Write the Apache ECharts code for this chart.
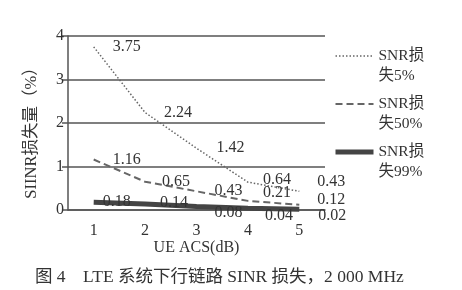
<!DOCTYPE html>
<html>
<head>
<meta charset="utf-8">
<script src="https://cdn.jsdelivr.net/npm/echarts@6/dist/echarts.min.js"></script>
<style>html,body{margin:0;padding:0;background:#fff}#c{width:462px;height:290px}</style>
</head>
<body>
<div id="c"></div>
<script>
const categories = ['1', '2', '3', '4', '5'];
const seriesNames = ['SNR损失5%', 'SNR损失50%', 'SNR损失99%'];
const loss5 = [3.75, 2.24, 1.42, 0.64, 0.43];
const loss50 = [1.16, 0.65, 0.43, 0.21, 0.12];
const loss99 = [0.18, 0.14, 0.08, 0.04, 0.02];
const yTicks = [0, 1, 2, 3, 4];

// label shifts (styling only)
const shift5 = [[19,0],[19,0],[20,0],[15,-2],[18,-9]];
const shift50 = [[19,0],[17,0],[18,0],[15,-8],[18,-5]];
const shift99 = [[9,0],[15,-1],[18,6],[17,8],[19,7]];

const FONT = "'Liberation Serif', 'Noto Sans CJK SC', serif";
const TXT = '#333';
const lineStyles = [
  { color: '#666', width: 1.5, type: [1.5, 2] },
  { color: '#666', width: 2, type: [7, 4] },
  { color: '#444', width: 5, type: 'solid' }
];

function mk(name, vals, shifts, line) {
  return {
    name: name,
    type: 'line',
    symbol: 'circle',
    symbolSize: 0,
    itemStyle: { color: line.color },
    lineStyle: line,
    data: vals.map((v, i) => ({ value: v, label: { offset: shifts[i] } })),
    label: {
      show: true, position: 'right', distance: 0,
      color: TXT, fontFamily: FONT, fontSize: 16,
      align: 'left', verticalAlign: 'middle'
    },
    z: line.width > 3 ? 3 : 2
  };
}

const chart = echarts.init(document.getElementById('c'), null, { renderer: 'canvas' });
chart.setOption({
  animation: false,
  backgroundColor: '#fff',
  textStyle: { fontFamily: FONT, color: TXT },
  title: {
    text: '图 4    LTE 系统下行链路 SINR 损失，2 000 MHz',
    left: 30, top: 264,
    textStyle: { fontFamily: FONT, fontSize: 17.5, fontWeight: 'normal', color: TXT }
  },
  grid: { left: 68, right: 137, top: 36, bottom: 80, containLabel: false },
  legend: {
    orient: 'vertical',
    left: 328, top: 21,
    itemWidth: 38, itemHeight: 14,
    itemGap: -12,
    data: seriesNames.map((n, i) => ({ name: n, lineStyle: { width: lineStyles[i].width } })),
    itemStyle: { opacity: 0 },
    formatter: n => '\n' + n.replace('损', '损\n'),
    textStyle: { fontFamily: FONT, fontSize: 15.5, color: TXT, lineHeight: 20 }
  },
  xAxis: {
    type: 'category',
    data: categories,
    boundaryGap: true,
    name: 'UE ACS(dB)',
    nameLocation: 'middle',
    nameGap: 30,
    nameMoveOverlap: false,
    nameTextStyle: { fontFamily: FONT, fontSize: 16, color: TXT },
    axisLine: { show: true, lineStyle: { color: '#555', width: 1.5 } },
    axisTick: { show: false },
    axisLabel: { margin: 13, fontFamily: FONT, fontSize: 16, color: TXT }
  },
  yAxis: {
    type: 'value',
    min: yTicks[0], max: yTicks[yTicks.length - 1], interval: 1,
    name: 'SIINR损失量（%）',
    nameLocation: 'middle',
    nameRotate: 90,
    nameGap: 28,
    nameMoveOverlap: false,
    nameTextStyle: { fontFamily: FONT, fontSize: 16.5, color: TXT, padding: [0, 12, 0, 0] },
    axisLine: { show: true, lineStyle: { color: '#555', width: 1.5 } },
    axisTick: { show: true, length: 6, lineStyle: { color: '#555', width: 1.5 } },
    axisLabel: { margin: 4, fontFamily: FONT, fontSize: 16, color: TXT },
    splitLine: { show: true, lineStyle: { color: '#555', width: 1.5 } }
  },
  series: seriesNames.map((n, i) => mk(n, [loss5, loss50, loss99][i], [shift5, shift50, shift99][i], lineStyles[i]))
});
</script>
</body>
</html>
